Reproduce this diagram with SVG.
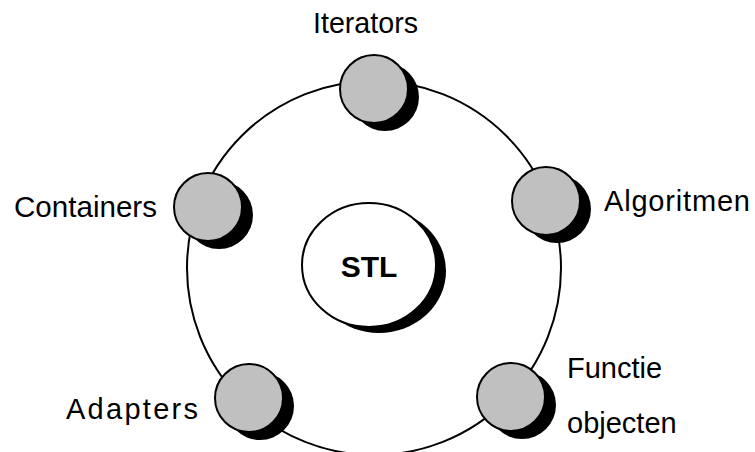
<svg xmlns="http://www.w3.org/2000/svg" width="755" height="452" viewBox="0 0 755 452">
<style>
.lbl{font-family:"Liberation Sans",Arial,sans-serif;font-size:29px;fill:#000}
.ball{fill:#c0c0c0;stroke:#000;stroke-width:2}
.shadow{fill:#000}
.ring{fill:none;stroke:#000;stroke-width:2}
</style>
<rect width="755" height="452" fill="#fff"/>
<g id="connectors">
<circle class="ring" cx="374" cy="268" r="187"/>
</g>
<g id="stl">
<ellipse class="shadow" cx="379" cy="271" rx="67" ry="62"/>
<ellipse cx="369" cy="265" rx="67" ry="62" fill="#fff" stroke="#000" stroke-width="2"/>
<text x="369" y="277" text-anchor="middle" style="font-family:'Liberation Sans',Arial,sans-serif;font-size:30px;font-weight:bold">STL</text>
</g>
<g id="iterators">
<circle class="shadow" cx="385" cy="97" r="34"/>
<circle class="ball" cx="374" cy="89" r="34"/>
<text class="lbl" x="313" y="33" textLength="105" lengthAdjust="spacingAndGlyphs">Iterators</text>
</g>
<g id="containers">
<circle class="shadow" cx="219" cy="215" r="34"/>
<circle class="ball" cx="208" cy="207" r="34"/>
<text class="lbl" x="14" y="217" textLength="143" lengthAdjust="spacingAndGlyphs">Containers</text>
</g>
<g id="algoritmen">
<circle class="shadow" cx="557" cy="209" r="34"/>
<circle class="ball" cx="546" cy="201" r="34"/>
<text class="lbl" x="604" y="211" textLength="146" lengthAdjust="spacing">Algoritmen</text>
</g>
<g id="adapters">
<circle class="shadow" cx="260" cy="406" r="34"/>
<circle class="ball" cx="249" cy="398" r="34"/>
<text class="lbl" x="66" y="419" textLength="132" lengthAdjust="spacing">Adapters</text>
</g>
<g id="functieobjecten">
<circle class="shadow" cx="522" cy="405" r="34"/>
<circle class="ball" cx="511" cy="397" r="34"/>
<text class="lbl" x="567" y="378">Functie</text>
<text class="lbl" x="567" y="433">objecten</text>
</g>
</svg>
